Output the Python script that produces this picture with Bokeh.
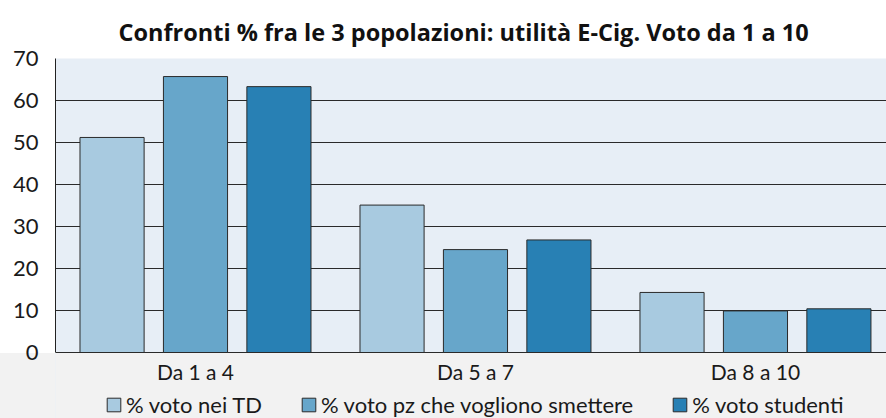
from bokeh.plotting import figure
from bokeh.models import Range1d, FixedTicker, Legend, LegendItem, BoxAnnotation
from bokeh.core.properties import value
from bokeh.embed import file_html
from bokeh.resources import INLINE

# ---- data ----
categories = ["Da 1 a 4", "Da 5 a 7", "Da 8 a 10"]
series_names = ["% voto nei TD", "% voto pz che vogliono smettere", "% voto studenti"]
voto_td = [51.2, 35.1, 14.3]
voto_pz = [65.7, 24.5, 9.9]
voto_studenti = [63.3, 26.8, 10.4]
y_ticks = [0, 10, 20, 30, 40, 50, 60, 70]
title_text = "Confronti % fra le 3 popolazioni: utilità E-Cig. Voto da 1 a 10"

colors = ["#a8cae0", "#67a6ca", "#2880b4"]
FONT = "Lato"
TXT = "#1a1a1a"
GRAY = "#f2f2f2"

idx = list(range(len(categories)))
bar_w = 0.229
offsets = [-0.298, 0.0, 0.298]
series = [voto_td, voto_pz, voto_studenti]

# frame spans down to the bottom edge; value 0 sits 66 px above it
p = figure(width=886, height=418, output_backend="svg", toolbar_location=None,
           x_range=Range1d(-0.5, 2.468), y_range=Range1d(-66 / 4.2, 70),
           min_border_left=55, min_border_right=0, min_border_top=58, min_border_bottom=0,
           background_fill_color="#e7eef6", border_fill_color=None, outline_line_color=None)

p.styles = {"background": "linear-gradient(to bottom, #ffffff 0px, #ffffff 353px, %s 353px, %s 100%%)" % (GRAY, GRAY)}

# grey band under the zero line
p.add_layout(BoxAnnotation(top=0, fill_color=GRAY, fill_alpha=1, line_color=None, level="image"))

renderers = []
for vals, off, col in zip(series, offsets, colors):
    xs = [i + off for i in idx]
    r = p.vbar(x=xs, top=vals, width=bar_w, bottom=0, fill_color=col,
               line_color="#2a2a2a", line_width=1)
    renderers.append(r)

# category labels under the zero line
p.text(x=idx, y=[0] * len(idx), text=categories, y_offset=19,
       text_align="center", text_baseline="middle",
       text_font=value(FONT), text_font_size="21px", text_color=TXT)

# title
p.title.text = title_text
p.title.align = "left"
p.title.offset = 63
p.title.text_font = "Open Sans"
p.title.text_font_size = "23.5px"
p.title.text_font_style = "bold"
p.title.text_color = "#111111"
p.title.standoff = 22

# axes
p.xaxis.visible = False

p.yaxis.ticker = FixedTicker(ticks=y_ticks)
p.yaxis.bounds = (0, 70)
p.yaxis.major_label_text_font = FONT
p.yaxis.major_label_text_font_size = "22px"
p.yaxis.major_label_text_color = TXT
p.yaxis.major_label_standoff = 17
p.yaxis.major_tick_line_color = None
p.yaxis.major_tick_out = 0
p.yaxis.minor_tick_line_color = None
p.yaxis.axis_line_color = "#222222"

p.xgrid.grid_line_color = None
p.ygrid.ticker = FixedTicker(ticks=y_ticks)
p.ygrid.grid_line_color = "#2a2a2a"
p.ygrid.grid_line_width = 1

legend = Legend(items=[LegendItem(label=n, renderers=[r]) for n, r in zip(series_names, renderers)],
                orientation="horizontal", location=(50, 0),
                label_text_font=FONT, label_text_font_size="22px", label_text_color=TXT,
                glyph_width=17, glyph_height=17, label_standoff=4, spacing=38,
                padding=0, margin=0, background_fill_alpha=0, border_line_alpha=0)
p.add_layout(legend)

open("out.html", "w").write(file_html(p, INLINE))
